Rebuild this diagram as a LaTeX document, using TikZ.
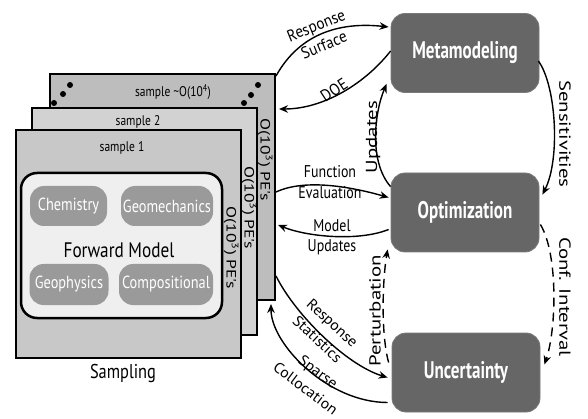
\documentclass[tikz,border=0pt]{standalone}
\usepackage{fontspec}
\setmainfont[FakeStretch=0.82]{PT Sans}
% wider cuts of the same face for slanted and upright labels
\newfontfamily\upfont[FakeStretch=1.3]{PT Sans}
\newfontfamily\slantfont[FakeStretch=1.05]{PT Sans}
\newfontfamily\lowfont[FakeStretch=0.92]{PT Sans}
\newfontfamily\stagefont[FakeStretch=0.71]{PT Sans}
\usetikzlibrary{arrows.meta,calc}
\definecolor{stagegray}{HTML}{666666}
\definecolor{stageedge}{HTML}{7A7A7A}
\definecolor{pillgray}{HTML}{9A9A9A}
\definecolor{backgray}{HTML}{BDBDBD}
\definecolor{midgray}{HTML}{D2D2D2}
\definecolor{frontgray}{HTML}{C8C8C8}
\definecolor{modelfill}{HTML}{EFEFEF}
\newcommand{\fs}[2]{\fontsize{#1}{#2}\selectfont}
\begin{document}
\begin{tikzpicture}[x=1pt,y=-1pt,
  panel/.style={draw=black, line width=2.5pt, minimum width=225pt, inner sep=0pt},
  model/.style={draw=black, line width=2.5pt, fill=modelfill, rounded corners=16pt,
    minimum width=201pt, minimum height=145pt, inner sep=0pt},
  pill/.style={fill=pillgray, rounded corners=14pt, text=white, font=\fs{17.5}{19},
    minimum height=40pt, inner sep=0pt},
  stage/.style={fill=stagegray, draw=stageedge, line width=0.8pt, rounded corners=14pt,
    minimum width=148pt, minimum height=79pt, text=white, font=\stagefont\bfseries\fs{24}{26}},
  flow/.style={line width=1.4pt, -{Stealth[length=9pt,width=7.5pt]}},
  conf/.style={flow, dash pattern=on 9pt off 6pt},
  lbl/.style={font=\fs{17}{20.5}, inner sep=0pt, align=center},
  uplbl/.style={font=\upfont\fs{16}{20}, inner sep=0pt},
  pe/.style={font=\upfont\fs{13.5}{15}, inner sep=0pt, rotate=-90},
  sample/.style={font=\fs{14}{16}, inner sep=0pt}]
\useasboundingbox (0,0) rectangle (588,419);

% stacked sample panels
\node[panel, fill=backgray, line width=2pt, minimum height=226pt] (back) at (162.5,187) {};
\node[panel, fill=midgray, minimum height=227pt] (mid) at (144.5,221.5) {};
\node[panel, fill=frontgray, minimum height=228pt] (front) at (128.5,244) {};

\node[sample] (s3) at (173,92) {sample \textasciitilde O(10\textsuperscript{4})};
\node[sample] (s2) at (138,122) {sample 2};
\node[sample] (s1) at (122,148) {sample 1};

% ellipsis dots on the back panel
\foreach \p in {(54,103),(63,94),(70,85),(244,103),(251,95),(258,85)}
  \fill \p circle (3pt);

\node[pe] (pe3) at (265,160) {O(10\textsuperscript{3}) PE's};
\node[pe] (pe2) at (249,208) {O(10\textsuperscript{3}) PE's};
\node[pe] (pe1) at (231,248) {O(10\textsuperscript{3}) PE's};

% forward model with its physics modules
\node[model] (fwd) at (121.5,245.5) {};
\node[font=\fs{21}{23}, inner sep=0pt] (fwdlabel) at (119,250) {Forward Model};
\node[pill, minimum width=77pt] (chem) at (68.5,206) {Chemistry};
\node[pill, minimum width=92pt] (geomech) at (167,206) {Geomechanics};
\node[pill, minimum width=79pt, minimum height=41pt] (geophys) at (69,284.5) {Geophysics};
\node[pill, minimum width=94pt, minimum height=41pt] (comp) at (166,284.5) {Compositional};
\node[font=\fs{20}{22}, inner sep=0pt] (sampling) at (123,373) {Sampling};

% analysis stages
\node[stage] (meta) at (465,53) {Metamodeling};
\node[stage] (opt) at (465,212.5) {Optimization};
\node[stage] (unc) at (466,372.5) {Uncertainty};

% connectors
\draw[flow] ($(back.north east)+(0,3)$) .. controls +(25,-45) and +(-45,-5) .. ($(meta.west)+(-2,-26)$);
\draw[flow] ($(meta.west)+(0,-2)$) .. controls +(-25,32) and +(45,0) .. ($(back.north east)+(3,36)$);
\draw[flow] ($(opt.north west)+(0,14)$) .. controls +(-22,-25) and +(-12,28) .. ($(meta.south west)+(-4,-9)$);
\draw[flow] ($(back.east)+(0,5)$) .. controls +(30,-14) and +(-35,-10) .. ($(opt.west)+(-2,-15)$);
\draw[flow] ($(opt.west)+(-2,17)$) .. controls +(-30,12) and +(30,12) .. ($(back.east)+(2,38)$);
\draw[flow] ($(meta.east)+(-1,8)$) .. controls +(18,25) and +(18,-35) .. ($(opt.north east)+(3,22)$);
\draw[conf] ($(opt.east)+(1,12)$) .. controls +(18,30) and +(12,-35) .. ($(unc.east)+(4,-8)$);
\draw[conf] ($(unc.west)+(-3,-10)$) .. controls +(-8,-30) and +(-5,30) .. ($(opt.south west)+(-3,-3)$);
\draw[flow] ($(back.south east)+(0,-25)$) .. controls +(20,40) and +(-40,-12) .. ($(unc.west)+(-4,5)$);
\draw[flow] ($(unc.west)+(-4,30)$) .. controls +(-60,0) and +(0,40) .. ($(back.south east)+(-5,3)$);

% connector labels
\node[lbl, font=\lowfont\fs{16.5}{21}, rotate=22] (lresp) at (320,35) {Response\\Surface};
\node[lbl, font=\lowfont\fs{16.5}{20}, rotate=33] (ldoe) at (334,90) {DOE};
\node[uplbl, rotate=90] (lupd) at (373,137) {Updates};
\node[lbl] (lfun) at (330,182) {Function\\Evaluation};
\node[lbl] (lmod) at (332,237) {Model\\Updates};
\node[uplbl, rotate=-90] (lsens) at (565,134) {Sensitivities};
\node[uplbl, rotate=-90] (lconf) at (565,297) {Conf. Interval};
\node[uplbl, rotate=90] (lpert) at (375,311) {Perturbation};
\node[lbl, font=\slantfont\fs{15}{22}, rotate=-43] (lstat) at (325,331) {Response\\Statistics};
\node[lbl, font=\slantfont\fs{15}{21}, rotate=-37] (lcoll) at (312,380) {Sparse\\Collocation};
\end{tikzpicture}
\end{document}
